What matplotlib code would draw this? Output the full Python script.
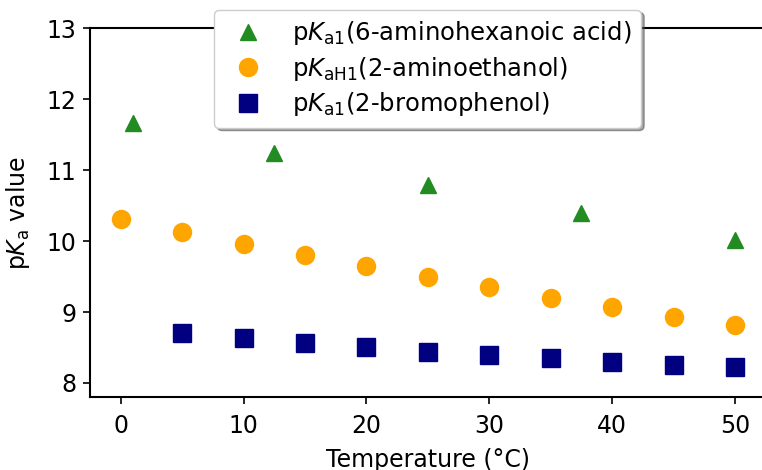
import matplotlib
matplotlib.use("Agg")
import matplotlib.pyplot as plt

# temperatures (deg C) and pKa values
t_acid = [1, 12.5, 25, 37.5, 50]
pka_acid = [11.66, 11.24, 10.79, 10.39, 10.01]

t_ethanol = [0, 5, 10, 15, 20, 25, 30, 35, 40, 45, 50]
pka_ethanol = [10.31, 10.13, 9.96, 9.80, 9.65, 9.50, 9.35, 9.20, 9.07, 8.93, 8.81]

t_phenol = [5, 10, 15, 20, 25, 30, 35, 40, 45, 50]
pka_phenol = [8.70, 8.63, 8.56, 8.50, 8.44, 8.39, 8.35, 8.30, 8.26, 8.22]

xticks = [0, 10, 20, 30, 40, 50]
yticks = [8, 9, 10, 11, 12, 13]

plt.rcParams['font.size'] = 17

fig = plt.figure(figsize=(7.62, 4.70), dpi=100)
ax = fig.add_axes([0.118, 0.155, 0.887, 0.785])

ax.plot(t_acid, pka_acid, '^', color='forestgreen', markersize=12,
        label=r'p$K_\mathrm{a1}$(6-aminohexanoic acid)')
ax.plot(t_ethanol, pka_ethanol, 'o', color='orange', markersize=13,
        label=r'p$K_\mathrm{aH1}$(2-aminoethanol)')
ax.plot(t_phenol, pka_phenol, 's', color='navy', markersize=12.5,
        label=r'p$K_\mathrm{a1}$(2-bromophenol)')

ax.set_xlim(-2.5, 52.5)
ax.set_ylim(7.8, 13)
ax.set_xticks(xticks)
ax.set_yticks(yticks)
ax.spines['right'].set_visible(False)
for s in ['left', 'bottom', 'top']:
    ax.spines[s].set_linewidth(1.5)
ax.tick_params(axis='x', width=1.2, length=5, pad=7)
ax.tick_params(axis='y', width=1.2, length=5, pad=5)

ax.set_xlabel('Temperature (°C)', labelpad=7)
ax.set_ylabel(r'p$K_\mathrm{a}$ value', labelpad=10)

ax.legend(loc='upper center', bbox_to_anchor=(0.5, 1.05), borderaxespad=0,
          shadow=True, fancybox=True, framealpha=1, fontsize=17.5,
          labelspacing=0.3)

fig.savefig('out.png', dpi=100)
